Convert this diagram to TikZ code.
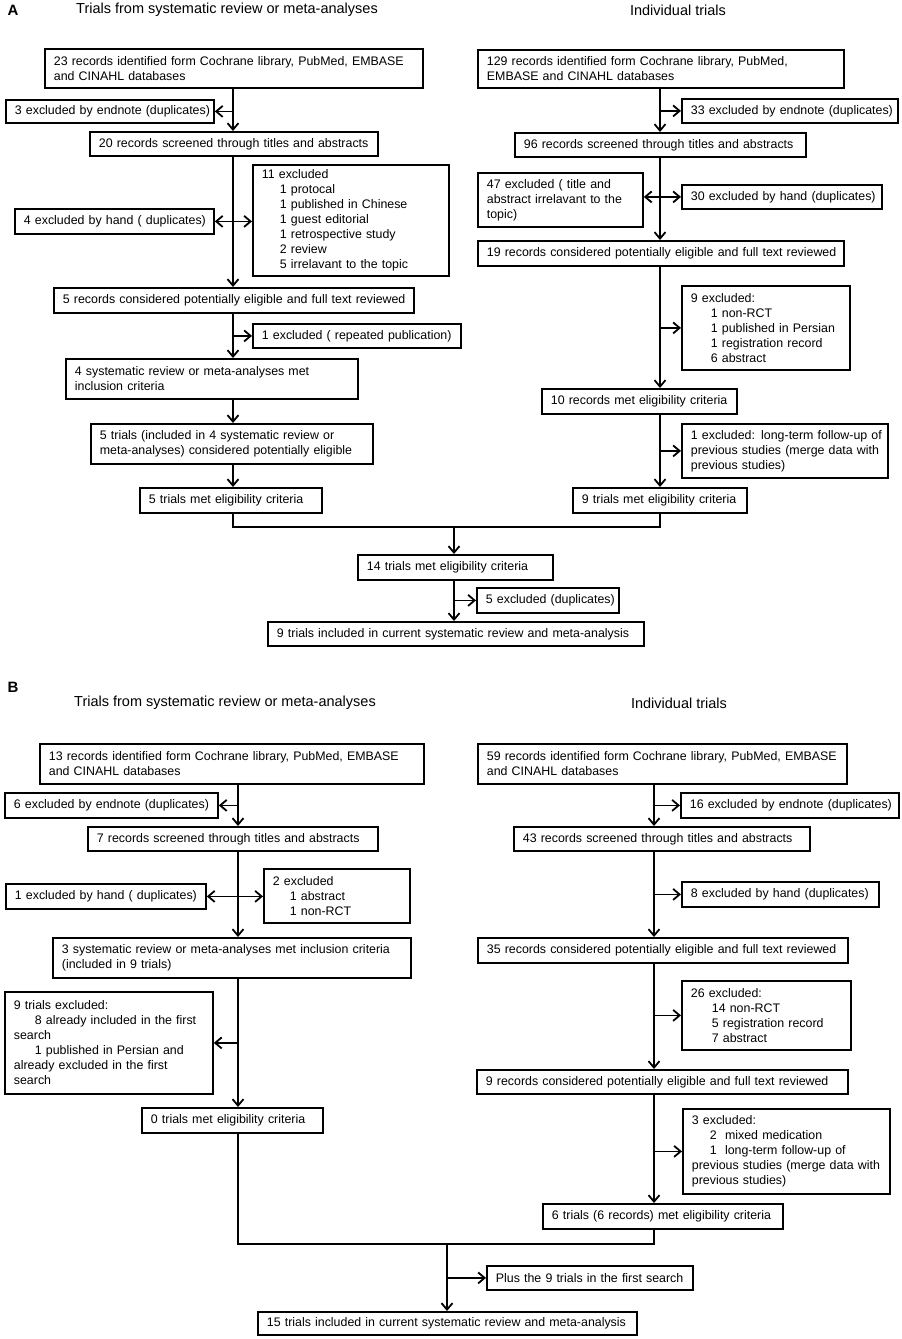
\documentclass[tikz,border=0pt]{standalone}
\usepackage{fontspec}
\setmainfont{Liberation Sans}
\usetikzlibrary{arrows.meta}

\tikzset{
  box/.style 2 args={draw, line width=1.8pt, anchor=north west, align=left,
    inner xsep=9pt, inner ysep=3pt, text width=#1, minimum height=#2,
    font=\fontsize{12.4}{15}\selectfont,
    execute at begin node={\rightskip=0pt plus 1fil minus 40pt}},
  arr/.style={line width=1.8pt, -{Straight Barb[length=6.5pt,width=11pt]}},
  dbl/.style={line width=1.8pt, {Straight Barb[length=6.5pt,width=11pt]}-{Straight Barb[length=6.5pt,width=11pt]}},
  mergeline/.style={line width=1.8pt},
  title/.style={font=\fontsize{14.5}{17}\selectfont},
  panel/.style={font=\fontsize{15}{17}\selectfont\bfseries},
}
\newcommand{\ind}[1]{\hspace*{#1pt}}

\begin{document}
\begin{tikzpicture}[x=1pt, y=-1pt]
  \useasboundingbox (0,0) rectangle (902,1339);

  %panel A
  \node[panel] (pA) at (13,10) {A};
  \node[title] (hA1) at (227,10) {Trials from systematic review or meta-analyses};
  \node[title] (hA2) at (678,10) {Individual trials};

  \coordinate (tA) at (233,0);
  \coordinate (tB) at (660,0);
  \coordinate (mA) at (454,527);

  \node[box={360pt}{39pt}] (a1) at (44,48) {23 records identified form Cochrane library, PubMed, EMBASE\\and CINAHL databases};
  \node[box={190pt}{23pt}] (a2) at (5,99) {3 excluded by endnote (duplicates)};
  \node[box={270pt}{24pt}] (a3) at (89,131) {20 records screened through titles and abstracts};
  \node[box={178pt}{111pt}] (a4) at (252,164) {11 excluded\\\ind{18}1 protocal\\\ind{18}1 published in Chinese\\\ind{18}1 guest editorial\\\ind{18}1 retrospective study\\\ind{18}2 review\\\ind{18}5 irrelavant to the topic};
  \node[box={181pt}{25pt}] (a5) at (14,208) {4 excluded by hand ( duplicates)};
  \node[box={342pt}{25pt}] (a6) at (53,287) {5 records considered potentially eligible and full text reviewed};
  \node[box={190pt}{24pt}] (a7) at (252,323) {1 excluded ( repeated publication)};
  \node[box={274pt}{40pt}] (a8) at (65,358) {4 systematic review or meta-analyses met\\inclusion criteria};
  \node[box={264pt}{40pt}] (a9) at (90,423) {5 trials (included in 4 systematic review or\\meta-analyses) considered potentially eligible};
  \node[box={164pt}{25pt}] (a10) at (139,487) {5 trials met eligibility criteria};

  \node[box={348pt}{38pt}] (b1) at (477,49) {129 records identified form Cochrane library, PubMed,\\EMBASE and CINAHL databases};
  \node[box={198pt}{24pt}] (b2) at (681,98) {33 excluded by endnote (duplicates)};
  \node[box={273pt}{24pt}] (b3) at (514,132) {96 records screened through titles and abstracts};
  \node[box={147pt}{54pt}] (b4) at (477,172) {47 excluded ( title and\\abstract irrelavant to the\\topic)};
  \node[box={182pt}{24pt}] (b5) at (681,184) {30 excluded by hand (duplicates)};
  \node[box={348pt}{25pt}] (b6) at (477,240) {19 records considered potentially eligible and full text reviewed};
  \node[box={150pt}{84pt}] (b7) at (681,285) {9 excluded:\\\ind{20}1 non-RCT\\\ind{20}1 published in Persian\\\ind{20}1 registration record\\\ind{20}6 abstract};
  \node[box={177pt}{25pt}] (b8) at (541,388) {10 records met eligibility criteria};
  \node[box={188pt}{54pt}] (b9) at (681,423) {1 excluded: long-term follow-up of\\previous studies (merge data with\\previous studies)};
  \node[box={156pt}{25pt}] (b10) at (572,487) {9 trials met eligibility criteria};

  \node[box={177pt}{25pt}] (c1) at (357,554) {14 trials met eligibility criteria};
  \node[box={124pt}{25pt}] (c2) at (476,587) {5 excluded (duplicates)};
  \node[box={358pt}{24pt}] (c3) at (267,621) {9 trials included in current systematic review and meta-analysis};

  \draw[arr] (a1.south -| tA) -- (a3.north -| tA);
  \draw[arr] (tA |- a2.east) -- (a2.east);
  \draw[arr] (a3.south -| tA) -- (a6.north -| tA);
  \draw[dbl] (a5.east) -- (a5.east -| a4.west);
  \draw[arr] (a6.south -| tA) -- (a8.north -| tA);
  \draw[arr] (tA |- a7.west) -- (a7.west);
  \draw[arr] (a8.south -| tA) -- (a9.north -| tA);
  \draw[arr] (a9.south -| tA) -- (a10.north -| tA);

  \draw[arr] (b1.south -| tB) -- (b3.north -| tB);
  \draw[arr] (tB |- b2.west) -- (b2.west);
  \draw[arr] (b3.south -| tB) -- (b6.north -| tB);
  \draw[dbl] (b4.east |- b5.west) -- (b5.west);
  \draw[arr] (b6.south -| tB) -- (b8.north -| tB);
  \draw[arr] (tB |- b7.west) -- (b7.west);
  \draw[arr] (b8.south -| tB) -- (b10.north -| tB);
  \draw[arr] (tB |- b9.west) -- (b9.west);

  \draw[mergeline] (a10.south -| tA) |- (mA) -| (b10.south -| tB);
  \draw[arr] (mA) -- (c1.north -| mA);
  \draw[arr] (c1.south -| mA) -- (c3.north -| mA);
  \draw[arr] (mA |- c2.west) -- (c2.west);

  %panel B
  \node[panel] (pB) at (13,687) {B};
  \node[title] (hB1) at (225,703) {Trials from systematic review or meta-analyses};
  \node[title] (hB2) at (679,703) {Individual trials};

  \coordinate (tC) at (238,0);
  \coordinate (tD) at (654,0);
  \coordinate (mB) at (447,1244);

  \node[box={366pt}{40pt}] (d1) at (39,743) {13 records identified form Cochrane library, PubMed, EMBASE\\and CINAHL databases};
  \node[box={195pt}{25pt}] (d2) at (4,792) {6 excluded by endnote (duplicates)};
  \node[box={272pt}{24pt}] (d3) at (87,826) {7 records screened through titles and abstracts};
  \node[box={128pt}{54pt}] (d4) at (263,868) {2 excluded\\\ind{17}1 abstract\\\ind{17}1 non-RCT};
  \node[box={182pt}{25pt}] (d5) at (5,883) {1 excluded by hand ( duplicates)};
  \node[box={340pt}{40pt}] (d6) at (52,937) {3 systematic review or meta-analyses met inclusion criteria\\(included in 9 trials)};
  \node[box={190pt}{102pt}] (d7) at (4,991) {9 trials excluded:\\\ind{21}8 already included in the first\\search\\\ind{21}1 published in Persian and\\already excluded in the first\\search};
  \node[box={163pt}{25pt}] (d8) at (141,1107) {0 trials met eligibility criteria};

  \node[box={351pt}{40pt}] (e1) at (477,743) {59 records identified form Cochrane library, PubMed, EMBASE\\and CINAHL databases};
  \node[box={200pt}{25pt}] (e2) at (680,792) {16 excluded by endnote (duplicates)};
  \node[box={278pt}{24pt}] (e3) at (513,826) {43 records screened through titles and abstracts};
  \node[box={179pt}{25pt}] (e4) at (681,881) {8 excluded by hand (duplicates)};
  \node[box={352pt}{25pt}] (e5) at (477,937) {35 records considered potentially eligible and full text reviewed};
  \node[box={151pt}{69pt}] (e6) at (681,980) {26 excluded:\\\ind{21}14 non-RCT\\\ind{21}5 registration record\\\ind{21}7 abstract};
  \node[box={353pt}{24pt}] (e7) at (476,1069) {9 records considered potentially eligible and full text reviewed};
  \node[box={189pt}{85pt}] (e8) at (682,1108) {3 excluded:\\\ind{18}2\ \ mixed medication\\\ind{18}1\ \ long-term follow-up of\\previous studies (merge data with\\previous studies)};
  \node[box={222pt}{25pt}] (e9) at (542,1203) {6 trials (6 records) met eligibility criteria};

  \node[box={188pt}{24pt}] (f1) at (486,1265) {Plus the 9 trials in the first search};
  \node[box={361pt}{23pt}] (f2) at (257,1311) {15 trials included in current systematic review and meta-analysis};

  \draw[arr] (d1.south -| tC) -- (d3.north -| tC);
  \draw[arr] (tC |- d2.east) -- (d2.east);
  \draw[arr] (d3.south -| tC) -- (d6.north -| tC);
  \draw[dbl] (d5.east) -- (d5.east -| d4.west);
  \draw[arr] (d6.south -| tC) -- (d8.north -| tC);
  \draw[arr] (tC |- d7.east) -- (d7.east);

  \draw[arr] (e1.south -| tD) -- (e3.north -| tD);
  \draw[arr] (tD |- e2.west) -- (e2.west);
  \draw[arr] (e3.south -| tD) -- (e5.north -| tD);
  \draw[arr] (tD |- e4.west) -- (e4.west);
  \draw[arr] (e5.south -| tD) -- (e7.north -| tD);
  \draw[arr] (tD |- e6.west) -- (e6.west);
  \draw[arr] (e7.south -| tD) -- (e9.north -| tD);
  \draw[arr] (tD |- e8.west) -- (e8.west);

  \draw[mergeline] (d8.south -| tC) |- (mB) -| (e9.south -| tD);
  \draw[arr] (mB) -- (f2.north -| mB);
  \draw[arr] (mB |- f1.west) -- (f1.west);
\end{tikzpicture}
\end{document}
